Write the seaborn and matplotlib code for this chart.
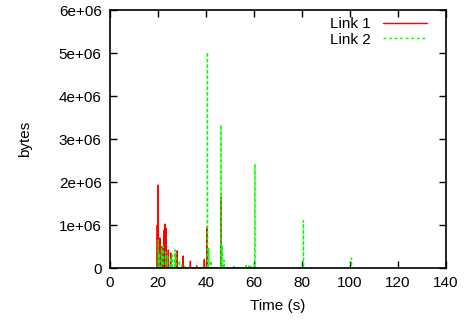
import pandas as pd
import matplotlib
matplotlib.use("Agg")
import matplotlib.pyplot as plt
import seaborn as sns

# spike times (s) and sizes (bytes)
link1_t = [19.7, 20.1, 20.8, 21.7, 22.5, 22.9, 23.3, 24.3, 25.3, 28.0,
           30.5, 33.5, 36.1, 39.3, 40.5, 46.25]
link1_v = [1.0e6, 1.93e6, 0.7e6, 0.5e6, 0.88e6, 1.02e6, 0.93e6, 0.42e6, 0.35e6, 0.4e6,
           0.28e6, 0.16e6, 0.05e6, 0.2e6, 0.96e6, 1.65e6]

link2_t = [20.1, 20.6, 21.5, 22.1, 23.2, 24.0, 25.3, 26.0, 27.1, 27.5,
           28.9, 29.9, 31.2, 40.6, 41.2, 42.1, 46.25, 46.8, 47.6, 49.3,
           51.7, 52.9, 56.7, 57.9, 58.75, 60.4, 80.6, 100.6]
link2_v = [0.65e6, 0.35e6, 0.47e6, 0.5e6, 0.38e6, 0.3e6, 0.25e6, 0.3e6, 0.42e6, 0.35e6,
           0.18e6, 0.07e6, 0.06e6, 5.02e6, 0.47e6, 0.17e6, 3.33e6, 0.53e6, 0.18e6, 0.05e6,
           0.06e6, 0.04e6, 0.06e6, 0.05e6, 0.07e6, 2.42e6, 1.1e6, 0.23e6]

x_ticks = [0, 20, 40, 60, 80, 100, 120, 140]
y_ticks = [0, 1e6, 2e6, 3e6, 4e6, 5e6, 6e6]
y_labels = ["0", "1e+06", "2e+06", "3e+06", "4e+06", "5e+06", "6e+06"]


def impulses(ts, vs, w=0.1):
    # each sample drops back to zero right next to it, like the trace file
    rows = []
    for t, v in zip(ts, vs):
        rows += [(t - w, 0.0), (t, v), (t + w, 0.0)]
    return pd.DataFrame(rows, columns=["t", "bytes"])


sns.set_style("ticks", {"axes.edgecolor": "black", "xtick.color": "black",
                        "ytick.color": "black", "text.color": "black",
                        "axes.labelcolor": "black"})
plt.rcParams["font.family"] = ["Liberation Sans", "DejaVu Sans"]
plt.rcParams["font.size"] = 10

fig = plt.figure(figsize=(4.71, 3.24), dpi=100)
ax = fig.add_axes([0.2335, 0.1728, 0.947 - 0.2335, 0.969 - 0.1728])

sns.lineplot(data=impulses(link1_t, link1_v), x="t", y="bytes", ax=ax,
             color="#ff0000", lw=1, estimator=None, label="Link 1")
sns.lineplot(data=impulses(link2_t, link2_v), x="t", y="bytes", ax=ax,
             color="#00ff00", lw=1, estimator=None, label="Link 2",
             dashes=False)
ax.lines[1].set_linestyle((0, (2, 2)))

ax.set_xlim(0, 140)
ax.set_ylim(0, 6e6)
ax.set_xticks(x_ticks)
ax.set_yticks(y_ticks)
ax.set_yticklabels(y_labels)
ax.set_xlabel("Time (s)", labelpad=6)
ax.set_ylabel("bytes", labelpad=19)
ax.tick_params(direction="in", length=5, width=1, top=True, right=True,
               labelsize=11, pad=6, colors="black")
for s in ax.spines.values():
    s.set_visible(True)
    s.set_linewidth(1.2)
    s.set_color("black")
ax.xaxis.label.set_size(11)
ax.yaxis.label.set_size(11)

leg = ax.legend(loc="upper right", frameon=False, markerfirst=False,
                fontsize=11, handlelength=2.9, labelspacing=0.1,
                borderaxespad=0.0, handletextpad=0.8,
                bbox_to_anchor=(1 - 13 / 336, 1 - 1 / 258))

fig.savefig("out.png", dpi=100)
